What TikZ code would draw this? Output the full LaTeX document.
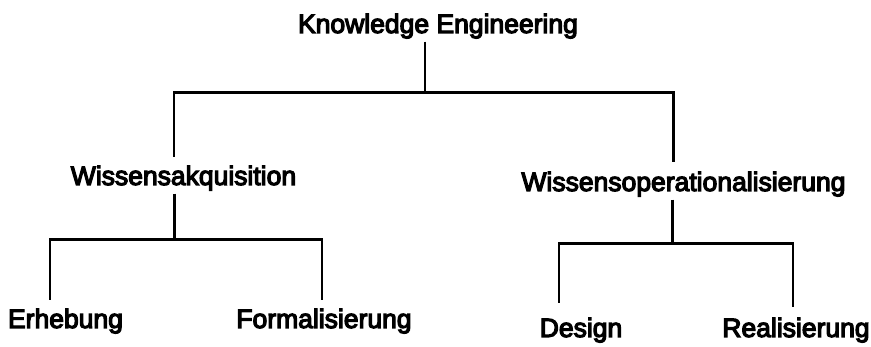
\documentclass[tikz,border=0pt]{standalone}
\usepackage{fontspec}
\newfontfamily\scanfont{Liberation Sans}[FakeBold=4.5]
\tikzset{
	lbl/.style={anchor=base,inner sep=3pt,font=\scanfont\fontsize{26.5}{30}\selectfont},
	branch/.style={line width=2.8pt,line join=miter}
}
\begin{document}
\begin{tikzpicture}[x=1pt,y=-1pt]
\useasboundingbox (0,0) rectangle (871,347);
\node[lbl] (ke) at (438,33) {Knowledge Engineering};
\node[lbl] (wa) at (183.5,185) {Wissensakquisition};
\node[lbl] (wo) at (683.5,191) {Wissensoperationalisierung};
\node[lbl] (er) at (65.5,328) {Erhebung};
\node[lbl] (fo) at (324,328) {Formalisierung};
\node[lbl] (de) at (581,337) {Design};
\node[lbl] (re) at (796,337) {Realisierung};
\draw[branch] ([xshift=-13pt]ke.south) -- ++(0,51) coordinate (j0);
\draw[branch] (j0) -| ([xshift=-9.5pt,yshift=6pt]wa.north);
\draw[branch] (j0) -| ([xshift=-10pt,yshift=7pt]wo.north);
\draw[branch] ([xshift=-9pt]wa.south) -- ++(0,46) coordinate (j1);
\draw[branch] (j1) -| ([xshift=-15.5pt,yshift=6pt]er.north);
\draw[branch] (j1) -| ([xshift=-2pt,yshift=6pt]fo.north);
\draw[branch] ([xshift=-11pt]wo.south) -- ++(0,43.5) coordinate (j2);
\draw[branch] (j2) -| ([xshift=-22pt,yshift=12pt]de.north);
\draw[branch] (j2) -| ([xshift=-3pt,yshift=8pt]re.north);
\end{tikzpicture}
\end{document}
